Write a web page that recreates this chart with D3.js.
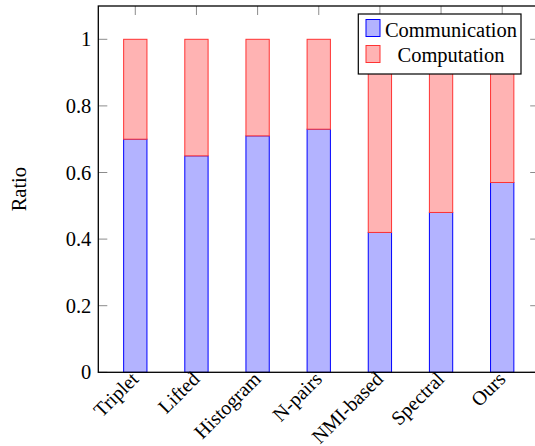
<!DOCTYPE html>
<html>
<head>
<meta charset="utf-8">
<script src="https://cdn.jsdelivr.net/npm/d3@7"></script>
<style>
  html, body { margin: 0; padding: 0; background: #fff; }
  svg { display: block; }
  svg text { font-family: 'Liberation Serif', 'DejaVu Serif', serif !important; fill: #000; }
</style>
</head>
<body>
<svg id="chart" width="535" height="446"></svg>
<script>
// Share of time spent in communication vs. computation, per method
const categories = ["Triplet", "Lifted", "Histogram", "N-pairs", "NMI-based", "Spectral", "Ours"];
const communication = [0.70, 0.65, 0.71, 0.73, 0.42, 0.48, 0.57];
const computation = [0.30, 0.35, 0.29, 0.27, 0.58, 0.52, 0.43];
const seriesNames = ["Communication", "Computation"];
const yTicks = [0, 0.2, 0.4, 0.6, 0.8, 1];

const svg = d3.select("#chart");
const plotLeft = 98.3, plotRight = 539.2, plotTop = 6, plotBottom = 372.3;
const fontSize = 20.5;
const serif = "'Liberation Serif', 'DejaVu Serif', serif";

const x = d3.scalePoint().domain(categories).range([plotLeft, plotRight]).padding(0.605);
const y = d3.scaleLinear().domain([0, 1.1]).range([plotBottom, plotTop]);
const barW = 23.3;

const rows = categories.map((c, i) => ({ cat: c, Communication: communication[i], Computation: computation[i] }));
const stacked = d3.stack().keys(seriesNames)(rows);
const fills = { Communication: "#b3b3ff", Computation: "#ffb3b3" };
const strokes = { Communication: "#0000ff", Computation: "#ff3333" };

// bars
stacked.forEach(layer => {
  svg.append("g").selectAll("rect").data(layer).join("rect")
    .attr("x", d => x(d.data.cat) - barW / 2)
    .attr("width", barW)
    .attr("y", d => y(d[1]))
    .attr("height", d => y(d[0]) - y(d[1]))
    .attr("fill", fills[layer.key])
    .attr("stroke", strokes[layer.key])
    .attr("stroke-width", 1);
});

// inward tick marks on all four sides
const tickLen = 9;
const tickColor = "#8c8c8c";
const ticks = svg.append("g").attr("stroke", tickColor).attr("stroke-width", 1);
yTicks.forEach(v => {
  ticks.append("line").attr("x1", plotLeft).attr("x2", plotLeft + tickLen).attr("y1", y(v)).attr("y2", y(v));
  ticks.append("line").attr("x1", plotRight).attr("x2", plotRight - tickLen).attr("y1", y(v)).attr("y2", y(v));
});
categories.forEach(c => {
  ticks.append("line").attr("x1", x(c)).attr("x2", x(c)).attr("y1", plotTop).attr("y2", plotTop + tickLen);
});

// frame
svg.append("rect").attr("x", plotLeft).attr("y", plotTop)
  .attr("width", plotRight - plotLeft).attr("height", plotBottom - plotTop)
  .attr("fill", "none").attr("stroke", "#000").attr("stroke-width", 1.3);

// y axis labels
const yAxis = d3.axisLeft(y).tickValues(yTicks).tickSize(0).tickPadding(7)
  .tickFormat(d => d3.format("~g")(d));
const gy = svg.append("g").attr("transform", `translate(${plotLeft},0)`).call(yAxis);
gy.attr("font-family", serif).attr("font-size", fontSize);
gy.select(".domain").remove();

// x axis labels, rotated
const xAxis = d3.axisBottom(x).tickSize(0).tickPadding(0);
const gx = svg.append("g").attr("transform", `translate(0,${plotBottom})`).call(xAxis);
gx.attr("font-family", serif).attr("font-size", 20);
gx.select(".domain").remove();
gx.selectAll("text")
  .attr("text-anchor", "end")
  .attr("dy", "0.35em")
  .attr("y", 0)
  .attr("transform", "translate(-1,3) rotate(-45)");

// y axis title
svg.append("text")
  .attr("transform", `translate(26,${(plotTop + plotBottom) / 2}) rotate(-90)`)
  .attr("text-anchor", "middle")
  .attr("font-size", fontSize)
  .text("Ratio");

// legend
const lg = svg.append("g");
lg.append("rect").attr("x", 358.3).attr("y", 14).attr("width", 162.7).attr("height", 60)
  .attr("fill", "#fff").attr("stroke", "#000").attr("stroke-width", 1.2);
seriesNames.forEach((name, i) => {
  const sy = 19.5 + i * 26;
  lg.append("rect").attr("x", 366).attr("y", sy).attr("width", 14).attr("height", 17)
    .attr("fill", fills[name]).attr("stroke", strokes[name]).attr("stroke-width", 1);
  lg.append("text").attr("x", 451).attr("y", 37.3 + i * 24.5)
    .attr("text-anchor", "middle").attr("font-size", fontSize).text(name);
});
</script>
</body>
</html>
